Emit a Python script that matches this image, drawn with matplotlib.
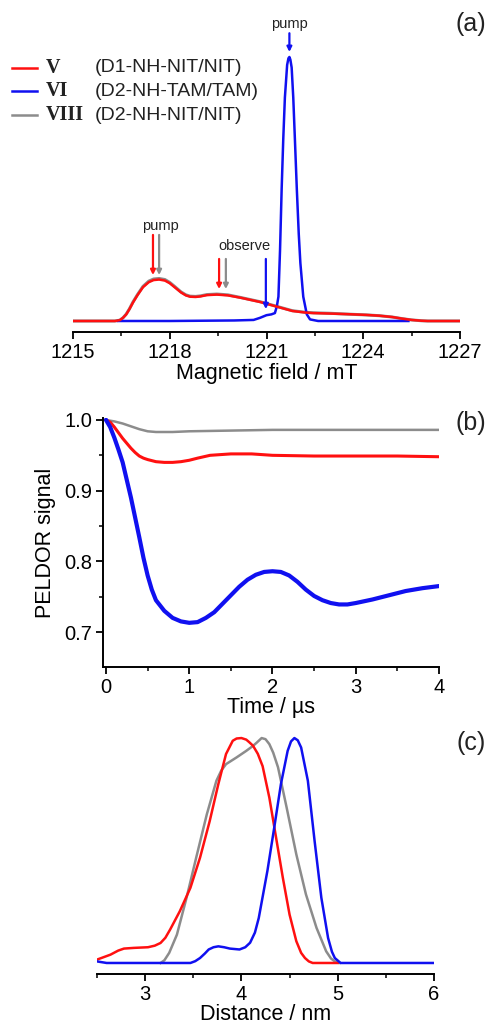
import matplotlib
matplotlib.use('Agg')
import matplotlib.pyplot as plt
from matplotlib.lines import Line2D

plt.rcParams['font.family'] = ['Liberation Sans', 'DejaVu Sans']

RED = '#ff1010'
BLUE = '#1010f0'
GRAY = '#8c8c8c'

# ---------------- Panel (a): field-swept spectra ----------------
field_red = [1215.0, 1216.0, 1216.3, 1216.45, 1216.55, 1216.65, 1216.75, 1216.86, 1217.0, 1217.17,
             1217.35, 1217.5, 1217.67, 1217.85, 1218.0, 1218.15, 1218.35, 1218.5, 1218.63, 1218.8,
             1218.95, 1219.15, 1219.46, 1219.8, 1220.2, 1220.8, 1221.3, 1221.8, 1222.2, 1222.45,
             1223.0, 1223.5, 1224.1, 1224.5, 1224.9, 1225.2, 1225.5, 1225.8, 1226.0, 1227.0]
spec_red = [0.0, 0.0, 0.0, 0.003, 0.012, 0.025, 0.045, 0.07, 0.098, 0.128,
            0.147, 0.155, 0.157, 0.153, 0.143, 0.128, 0.108, 0.097, 0.092, 0.091,
            0.093, 0.098, 0.1, 0.097, 0.088, 0.072, 0.055, 0.038, 0.032, 0.03,
            0.028, 0.026, 0.023, 0.02, 0.015, 0.009, 0.004, 0.001, 0.0, 0.0]
field_gray = field_red
spec_gray = [0.0, 0.0, 0.0, 0.003, 0.012, 0.026, 0.046, 0.072, 0.1, 0.131,
             0.151, 0.159, 0.161, 0.157, 0.146, 0.131, 0.11, 0.099, 0.094, 0.093,
             0.095, 0.1, 0.102, 0.099, 0.089, 0.073, 0.056, 0.039, 0.033, 0.031,
             0.029, 0.026, 0.023, 0.02, 0.015, 0.009, 0.004, 0.001, 0.0, 0.0]
field_blue = [1216.4, 1218.0, 1220.0, 1220.6, 1220.8, 1221.0, 1221.15, 1221.26, 1221.32, 1221.37,
              1221.42, 1221.47, 1221.52, 1221.57, 1221.64, 1221.68, 1221.71, 1221.74, 1221.78,
              1221.83, 1221.88, 1221.94, 1222.0, 1222.05, 1222.14, 1222.25, 1222.35, 1222.6,
              1223.5, 1225.4]
spec_blue = [0.0, 0.0, 0.002, 0.004, 0.012, 0.022, 0.025, 0.03, 0.055, 0.092,
             0.27, 0.5, 0.69, 0.846, 0.97, 0.995, 1.0, 0.99, 0.96,
             0.846, 0.69, 0.5, 0.33, 0.22, 0.092, 0.025, 0.006, 0.0,
             0.0, 0.0]

# arrows: (x, y_top, y_tip, colour)
arrows_a = [(1217.48, 0.326, 0.174, RED), (1217.67, 0.326, 0.174, GRAY),
            (1219.53, 0.235, 0.121, RED), (1219.74, 0.235, 0.121, GRAY),
            (1220.98, 0.235, 0.045, BLUE), (1221.71, 1.09, 1.019, BLUE)]
arrow_texts = [('pump', 1217.7, 0.36), ('observe', 1220.33, 0.284), ('pump', 1221.71, 1.125)]

# ---------------- Panel (b): PELDOR time traces ----------------
t_gray = [0.0, 0.1, 0.2, 0.3, 0.4, 0.5, 0.6, 0.8, 1.0, 1.5, 2.0, 3.0, 4.0]
s_gray = [1.0, 0.998, 0.995, 0.991, 0.987, 0.984, 0.983, 0.983, 0.984, 0.985, 0.986, 0.986, 0.986]
t_red = [0.0, 0.05, 0.1, 0.15, 0.2, 0.25, 0.3, 0.35, 0.4, 0.45, 0.5, 0.6, 0.7, 0.8, 0.9, 1.0,
         1.1, 1.25, 1.5, 1.75, 2.0, 2.5, 3.0, 3.5, 4.0]
s_red = [1.0, 0.997, 0.99, 0.982, 0.974, 0.967, 0.96, 0.954, 0.949, 0.946, 0.944, 0.941, 0.940,
         0.940, 0.941, 0.943, 0.946, 0.950, 0.952, 0.952, 0.950, 0.949, 0.949, 0.949, 0.948]
t_blue = [0.0, 0.05, 0.1, 0.15, 0.2, 0.25, 0.3, 0.35, 0.4, 0.45, 0.5, 0.55, 0.6, 0.7, 0.8, 0.9,
          1.0, 1.1, 1.2, 1.3, 1.4, 1.5, 1.6, 1.7, 1.8, 1.9, 2.0, 2.1, 2.2, 2.3, 2.4, 2.5, 2.6,
          2.7, 2.8, 2.9, 3.0, 3.2, 3.4, 3.6, 3.8, 4.0]
s_blue = [1.0, 0.99, 0.975, 0.958, 0.94, 0.915, 0.89, 0.862, 0.834, 0.805, 0.78, 0.76, 0.745,
          0.73, 0.72, 0.715, 0.713, 0.714, 0.72, 0.728, 0.74, 0.752, 0.764, 0.774, 0.781, 0.785,
          0.786, 0.785, 0.78, 0.771, 0.76, 0.751, 0.745, 0.741, 0.739, 0.739, 0.741, 0.746,
          0.752, 0.758, 0.762, 0.765]

# ---------------- Panel (c): distance distributions ----------------
r_red = [2.5, 2.64, 2.72, 2.78, 2.88, 3.03, 3.1, 3.16, 3.21, 3.26, 3.36, 3.47, 3.57, 3.67, 3.76,
         3.84, 3.91, 3.95, 4.0, 4.05, 4.08, 4.12, 4.17, 4.22, 4.29, 4.36, 4.43, 4.5, 4.57, 4.62,
         4.66, 4.7, 4.74, 5.0]
p_red = [0.015, 0.037, 0.055, 0.064, 0.067, 0.07, 0.077, 0.089, 0.112, 0.149, 0.23, 0.334,
         0.468, 0.63, 0.795, 0.929, 0.988, 0.998, 1.0, 0.993, 0.982, 0.966, 0.93, 0.875, 0.735,
         0.557, 0.379, 0.215, 0.097, 0.045, 0.022, 0.007, 0.0, 0.0]
r_gray = [3.16, 3.2, 3.25, 3.33, 3.43, 3.53, 3.64, 3.74, 3.79, 3.84, 3.95, 4.05, 4.12, 4.16, 4.21,
          4.25, 4.29, 4.33, 4.38, 4.47, 4.57, 4.67, 4.78, 4.88, 4.93, 4.97, 5.02]
p_gray = [0.0, 0.012, 0.045, 0.126, 0.29, 0.468, 0.66, 0.81, 0.855, 0.884, 0.914, 0.943, 0.965,
          0.98, 1.0, 0.995, 0.973, 0.935, 0.87, 0.69, 0.483, 0.305, 0.156, 0.052, 0.02, 0.007, 0.0]
r_blue = [2.5, 2.6, 3.0, 3.47, 3.52, 3.57, 3.62, 3.66, 3.71, 3.76, 3.82, 3.88, 3.98, 4.04, 4.09,
          4.14, 4.18, 4.27, 4.34, 4.41, 4.48, 4.515, 4.55, 4.585, 4.62, 4.69, 4.76, 4.83, 4.9,
          4.94, 4.97, 5.03, 6.0]
p_blue = [0.007, 0.0, 0.0, 0.0, 0.008, 0.022, 0.042, 0.06, 0.07, 0.074, 0.07, 0.064, 0.06, 0.07,
          0.09, 0.135, 0.2, 0.41, 0.6, 0.795, 0.943, 0.985, 1.0, 0.99, 0.958, 0.81, 0.542, 0.29,
          0.111, 0.05, 0.022, 0.0, 0.0]

legend_ids = ['V', 'VI', 'VIII']
legend_names = ['(D1-NH-NIT/NIT)', '(D2-NH-TAM/TAM)', '(D2-NH-NIT/NIT)']
legend_colors = [RED, BLUE, GRAY]

W, H = 488, 1024
TICK = 14.5
LAB = 15.5

fig = plt.figure(figsize=(W / 100, H / 100), dpi=100)


def fx(px):
    return px / W


def fy(py):
    return 1 - py / H


def style(ax):
    for s in ['top', 'right']:
        ax.spines[s].set_visible(False)
    for s in ax.spines.values():
        s.set_linewidth(1.4)
    ax.tick_params(which='major', direction='out', length=5, width=1.3, labelsize=TICK, pad=3)
    ax.tick_params(which='minor', direction='out', length=3, width=1.1)


# Panel a
ax_a = fig.add_axes([fx(73), fy(332), fx(387), 322 / H])
style(ax_a)
ax_a.spines['left'].set_visible(False)
ax_a.set_yticks([])
ax_a.plot(field_gray, spec_gray, color=GRAY, lw=2.2)
ax_a.plot(field_blue, spec_blue, color=BLUE, lw=1.8)
ax_a.plot(field_red, spec_red, color=RED, lw=1.8)
ax_a.set_xlim(1215, 1227)
ax_a.set_ylim(-0.0417, 1.178)
ax_a.set_xticks([1215, 1218, 1221, 1224, 1227])
ax_a.set_xticks([1216.5, 1219.5, 1222.5, 1225.5], minor=True)
ax_a.set_xlabel('Magnetic field / mT', fontsize=LAB, labelpad=1)
for x, ytop, ytip, c in arrows_a:
    ax_a.annotate('', xy=(x, ytip), xytext=(x, ytop),
                  arrowprops=dict(arrowstyle='-|>', color=c, lw=1.6, mutation_scale=7,
                                  shrinkA=0, shrinkB=0))
for txt, x, y in arrow_texts:
    ax_a.text(x, y, txt, ha='center', va='center', fontsize=10.5, color='#222222')

# legend drawn manually
leg_y = [68, 91, 115]
for yy, rid, name, c in zip(leg_y, legend_ids, legend_names, legend_colors):
    fig.add_artist(Line2D([fx(12), fx(37)], [fy(yy), fy(yy)], color=c, lw=1.8))
    fig.text(fx(46), fy(yy), rid, ha='left', va='center', fontsize=14.5, fontweight='bold',
             family=['Liberation Serif', 'DejaVu Serif'], color='#222222')
    fig.text(fx(95), fy(yy), name, ha='left', va='center', fontsize=14, color='#222222')

# Panel b
ax_b = fig.add_axes([fx(103), fy(667), fx(336), 249 / H])
style(ax_b)
ax_b.plot(t_gray, s_gray, color=GRAY, lw=1.8)
ax_b.plot(t_red, s_red, color=RED, lw=2.2)
ax_b.plot(t_blue, s_blue, color=BLUE, lw=3.0)
ax_b.set_xlim(-0.036, 4.0)
ax_b.set_ylim(0.6505, 1.0028)
ax_b.set_xticks([0, 1, 2, 3, 4])
ax_b.set_xticks([0.5, 1.5, 2.5, 3.5], minor=True)
ax_b.set_yticks([0.7, 0.8, 0.9, 1.0])
ax_b.set_yticklabels(['0.7', '0.8', '0.9', '1.0'])
ax_b.set_yticks([0.75, 0.85, 0.95], minor=True)
ax_b.set_xlabel('Time / \u00b5s', fontsize=LAB, labelpad=0)
ax_b.set_ylabel('PELDOR signal', fontsize=LAB, labelpad=6)

# Panel c
ax_c = fig.add_axes([fx(97), fy(974), fx(337), 249 / H])
style(ax_c)
ax_c.spines['left'].set_visible(False)
ax_c.set_yticks([])
ax_c.plot(r_gray, p_gray, color=GRAY, lw=1.8)
ax_c.plot(r_red, p_red, color=RED, lw=1.8)
ax_c.plot(r_blue, p_blue, color=BLUE, lw=1.8)
ax_c.set_xlim(2.5, 6.0)
ax_c.set_ylim(-0.049, 1.058)
ax_c.set_xticks([3, 4, 5, 6])
ax_c.set_xticks([2.5, 3.5, 4.5, 5.5], minor=True)
ax_c.set_xlabel('Distance / nm', fontsize=LAB, labelpad=0)

for lab, py in [('(a)', 24), ('(b)', 423), ('(c)', 743)]:
    fig.text(fx(471), fy(py), lab, ha='center', va='center', fontsize=18, color='#222222')

fig.savefig('out.png', dpi=100)
